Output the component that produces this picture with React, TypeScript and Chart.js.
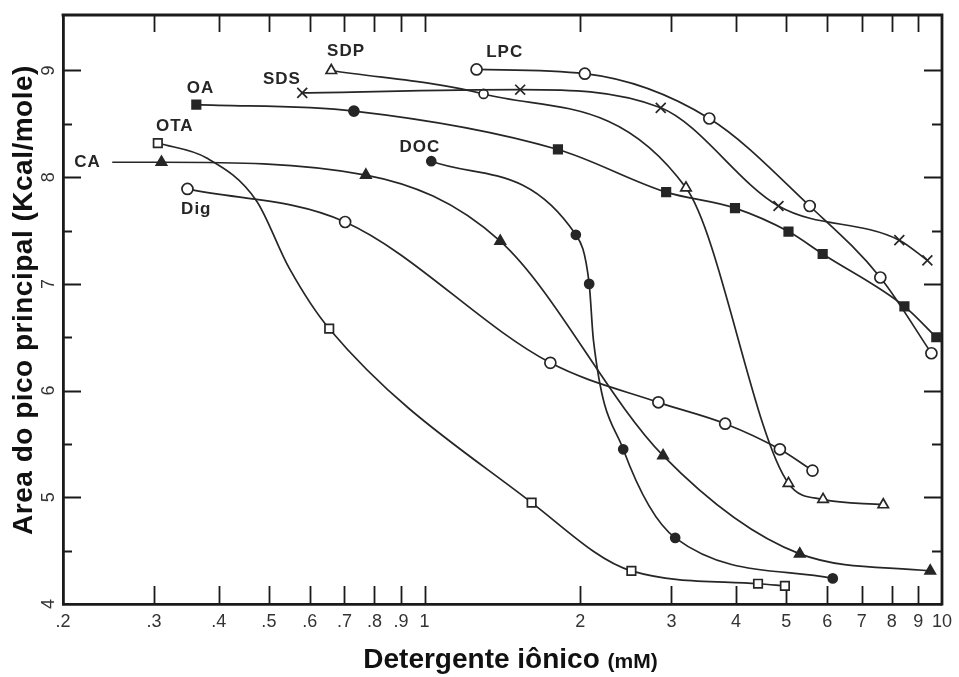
import React, { useEffect, useRef } from 'react';
import { Chart, registerables } from 'chart.js';

Chart.register(...registerables);

// ---------------- data ----------------
// measured points (markers)
const lpcX = [1.26, 2.04, 3.55, 5.55, 7.6, 9.54];
const lpcY = [9.01, 8.97, 8.55, 7.73, 7.06, 6.35];

const sdsX = [0.58, 1.53, 2.86, 4.83, 8.27, 9.37];
const sdsY = [8.79, 8.82, 8.65, 7.73, 7.41, 7.22];

const sdpX = [0.66, 1.3, 3.2, 5.05, 5.89, 7.7];
const sdpY = [9.0, 8.78, 7.9, 5.13, 4.98, 4.93];

const oaX = [0.362, 0.73, 1.81, 2.93, 3.98, 5.05, 5.88, 8.46, 9.75];
const oaY = [8.68, 8.62, 8.26, 7.86, 7.71, 7.49, 7.28, 6.79, 6.5];

const otaX = [0.305, 0.654, 1.61, 2.51, 4.41, 4.97];
const otaY = [8.32, 6.58, 4.95, 4.31, 4.19, 4.17];

const caX = [0.31, 0.77, 1.4, 2.89, 5.31, 9.49];
const caY = [8.14, 8.02, 7.4, 5.39, 4.47, 4.31];

const docX = [1.03, 1.96, 2.08, 2.42, 3.05, 6.15];
const docY = [8.15, 7.46, 7.0, 5.45, 4.62, 4.24];

const digX = [0.348, 0.702, 1.75, 2.83, 3.81, 4.86, 5.62];
const digY = [7.89, 7.58, 6.26, 5.89, 5.69, 5.45, 5.25];

const otaTraceX = [0.379, 0.473, 0.547];
const otaTraceY = [8.18, 7.78, 7.15];
const caTraceX = [0.249];
const caTraceY = [8.14];
const docTraceX = [2.12];
const docTraceY = [6.47];

// curve labels written on the plot
const seriesLabels = ['SDP', 'LPC', 'SDS', 'OA', 'OTA', 'CA', 'DOC', 'Dig'];
const labelX = [0.705, 1.428, 0.53, 0.369, 0.329, 0.223, 0.979, 0.362];
const labelY = [9.18, 9.17, 8.92, 8.83, 8.48, 8.14, 8.28, 7.7];

// axes
const xTickValues = [0.2, 0.3, 0.4, 0.5, 0.6, 0.7, 0.8, 0.9, 1, 2, 3, 4, 5, 6, 7, 8, 9, 10];
const xTickLabels = ['.2', '.3', '.4', '.5', '.6', '.7', '.8', '.9', '1', '2', '3', '4', '5', '6', '7', '8', '9', '10'];
const yTickValues = [4, 5, 6, 7, 8, 9];
const yTickLabels = ['4', '5', '6', '7', '8', '9'];
const yMinorValues = [4.5, 5.5, 6.5, 7.5, 8.5];
const xMin = 0.2;
const xMax = 10;
const yMin = 4;
const yMax = 9.52;

const yTitle = 'Area do pico principal (Kcal/mole)';
const xTitleMain = 'Detergente iônico';
const xTitleUnit = '(mM)';

// ---------------- styles ----------------
const INK = '#262626';
const AXIS = '#1a1a1a';
const FONT = '"Liberation Sans", Arial, sans-serif';

type P = { x: number; y: number; m: number };

function buildPoints(xs: number[], ys: number[], tx: number[] = [], ty: number[] = []): P[] {
  const a: P[] = xs.map((x, i) => ({ x, y: ys[i], m: i }));
  const b: P[] = tx.map((x, i) => ({ x, y: ty[i], m: -1 }));
  return [...a, ...b].sort((p, q) => p.x - q.x);
}

function series(
  label: string,
  xs: number[],
  ys: number[],
  tx: number[],
  ty: number[],
  style: (i: number) => string,
  radius: (i: number) => number,
  filled: boolean,
) {
  return {
    label,
    data: buildPoints(xs, ys, tx, ty),
    borderColor: INK,
    borderWidth: 1.7,
    cubicInterpolationMode: 'monotone',
    fill: false,
    pointBorderColor: INK,
    pointBorderWidth: 1.7,
    pointHoverRadius: 0,
    pointBackgroundColor: filled ? INK : '#ffffff',
    pointStyle: (c: any) => (c.raw && c.raw.m >= 0 ? style(c.raw.m) : 'circle'),
    pointRadius: (c: any) => (c.raw && c.raw.m >= 0 ? radius(c.raw.m) : 0),
  };
}

const decorPlugin = {
  id: 'decor',
  beforeDatasetsDraw(chart: any) {
    const { ctx, chartArea } = chart;
    const { left, right, top, bottom } = chartArea;
    const x = chart.scales.x;
    const y = chart.scales.y;
    ctx.save();
    ctx.strokeStyle = AXIS;
    ctx.lineWidth = 2.8;
    ctx.lineCap = 'square';
    ctx.beginPath();
    ctx.moveTo(left, top);
    ctx.lineTo(right, top);
    ctx.lineTo(right, bottom);
    ctx.stroke();

    ctx.lineWidth = 1.8;
    ctx.lineCap = 'butt';
    ctx.beginPath();
    for (const v of xTickValues) {
      if (v === xMin || v === xMax) continue;
      const px = Math.round(x.getPixelForValue(v)) + 0.5;
      ctx.moveTo(px, bottom);
      ctx.lineTo(px, bottom - 18);
      ctx.moveTo(px, top);
      ctx.lineTo(px, top + 17);
    }
    for (const v of yTickValues) {
      if (v === yMin) continue;
      const py = Math.round(y.getPixelForValue(v)) + 0.5;
      ctx.moveTo(left, py);
      ctx.lineTo(left + 18, py);
      ctx.moveTo(right, py);
      ctx.lineTo(right - 18, py);
    }
    for (const v of yMinorValues) {
      const py = Math.round(y.getPixelForValue(v)) + 0.5;
      ctx.moveTo(left, py);
      ctx.lineTo(left + 9, py);
      ctx.moveTo(right, py);
      ctx.lineTo(right - 10, py);
    }
    ctx.stroke();
    ctx.restore();
  },
  afterDraw(chart: any) {
    const { ctx, chartArea } = chart;
    const x = chart.scales.x;
    const y = chart.scales.y;
    ctx.save();
    ctx.fillStyle = INK;

    // curve labels
    ctx.font = `bold 17px ${FONT}`;
    (ctx as any).letterSpacing = '1px';
    ctx.textAlign = 'center';
    ctx.textBaseline = 'middle';
    seriesLabels.forEach((t, i) => {
      ctx.fillText(t, x.getPixelForValue(labelX[i]), y.getPixelForValue(labelY[i]));
    });

    // y tick labels (rotated like the title)
    (ctx as any).letterSpacing = '0px';
    ctx.font = `18px ${FONT}`;
    ctx.fillStyle = '#333';
    yTickValues.forEach((v, i) => {
      const py = y.getPixelForValue(v);
      ctx.save();
      ctx.translate(49, py);
      ctx.rotate(-Math.PI / 2);
      ctx.textAlign = 'center';
      ctx.textBaseline = 'middle';
      ctx.fillText(yTickLabels[i], 0, 0);
      ctx.restore();
    });

    // y title
    ctx.fillStyle = '#111';
    ctx.save();
    ctx.translate(24, 300);
    ctx.rotate(-Math.PI / 2);
    ctx.font = `bold 28px ${FONT}`;
    (ctx as any).letterSpacing = '0.5px';
    ctx.textAlign = 'center';
    ctx.textBaseline = 'middle';
    ctx.fillText(yTitle, 0, 0);
    ctx.restore();

    // x title with smaller unit
    (ctx as any).letterSpacing = '0px';
    ctx.font = `bold 28px ${FONT}`;
    const w1 = ctx.measureText(xTitleMain + ' ').width;
    ctx.font = `bold 21px ${FONT}`;
    const w2 = ctx.measureText(xTitleUnit).width;
    const cx = (chartArea.left + chartArea.right) / 2 + 8;
    const startX = cx - (w1 + w2) / 2;
    const base = 668;
    ctx.textAlign = 'left';
    ctx.textBaseline = 'alphabetic';
    ctx.font = `bold 28px ${FONT}`;
    ctx.fillText(xTitleMain, startX, base);
    ctx.font = `bold 21px ${FONT}`;
    ctx.fillText(xTitleUnit, startX + w1, base);
    ctx.restore();
  },
};

export default function App() {
  const canvasRef = useRef<HTMLCanvasElement | null>(null);

  useEffect(() => {
    const canvas = canvasRef.current;
    if (!canvas) return;
    const datasets: any[] = [
      series('LPC', lpcX, lpcY, [], [], () => 'circle', () => 5.5, false),
      series('SDS', sdsX, sdsY, [], [], () => 'crossRot', () => 7, false),
      series('SDP', sdpX, sdpY, [], [], (i) => (i === 1 ? 'circle' : 'triangle'), (i) => (i === 1 ? 4.5 : 6), false),
      series('OA', oaX, oaY, [], [], (i) => (i === 1 ? 'circle' : 'rect'), (i) => (i === 1 ? 5 : 6), true),
      series('OTA', otaX, otaY, otaTraceX, otaTraceY, () => 'rect', () => 6, false),
      series('CA', caX, caY, caTraceX, caTraceY, () => 'triangle', () => 6, true),
      series('DOC', docX, docY, docTraceX, docTraceY, () => 'circle', () => 4.5, true),
      series('Dig', digX, digY, [], [], () => 'circle', () => 5.5, false),
    ];

    const chart = new Chart(canvas, {
      type: 'line',
      data: { datasets },
      options: {
        animation: false,
        responsive: true,
        maintainAspectRatio: false,
        events: [],
        layout: { padding: { top: 15, right: 12, left: 0, bottom: 0 } },
        plugins: {
          legend: { display: false },
          tooltip: { enabled: false },
        },
        scales: {
          x: {
            type: 'logarithmic',
            min: xMin,
            max: xMax,
            afterBuildTicks: (s: any) => {
              s.ticks = xTickValues.map((v) => ({ value: v }));
            },
            afterFit: (s: any) => {
              s.height = 73;
            },
            grid: { display: false, drawTicks: false },
            border: { display: true, color: AXIS, width: 2.8 },
            ticks: {
              autoSkip: false,
              maxRotation: 0,
              minRotation: 0,
              padding: 7,
              color: '#333',
              font: { family: FONT, size: 18 },
              callback: (_v: any, i: number) => xTickLabels[i],
            },
          },
          y: {
            type: 'linear',
            min: yMin,
            max: yMax,
            afterBuildTicks: (s: any) => {
              s.ticks = yTickValues.map((v) => ({ value: v }));
            },
            afterFit: (s: any) => {
              s.width = 63;
            },
            grid: { display: false, drawTicks: false },
            border: { display: true, color: AXIS, width: 2.8 },
            ticks: { display: false },
          },
        },
      },
      plugins: [decorPlugin],
    } as any);

    return () => chart.destroy();
  }, []);

  return (
    <div style={{ position: 'fixed', left: 0, top: 0, width: 959, height: 677, background: '#fff' }}>
      <canvas ref={canvasRef} />
    </div>
  );
}
